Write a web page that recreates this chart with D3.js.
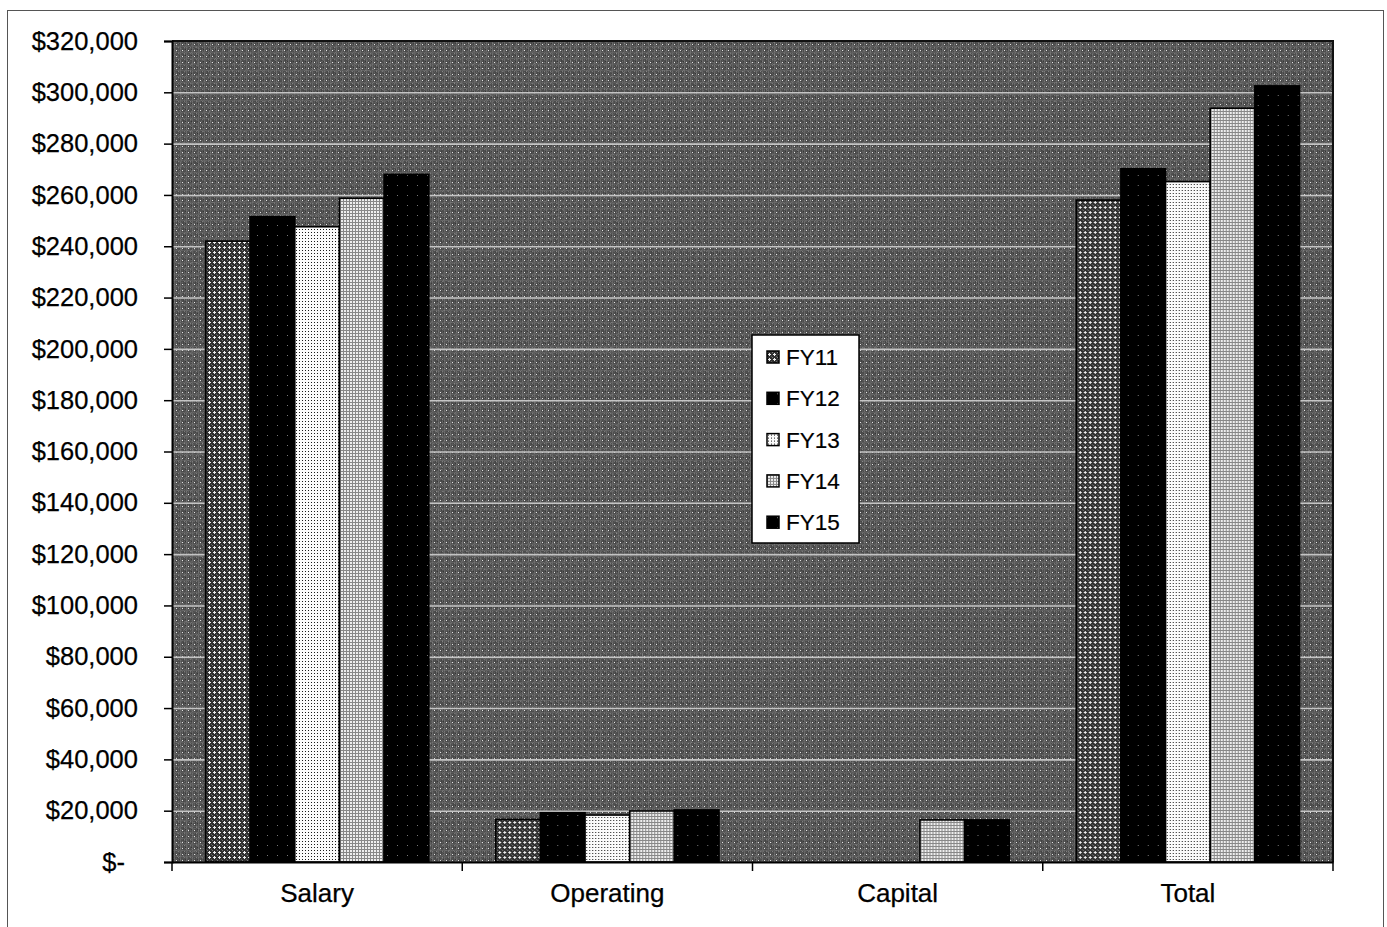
<!DOCTYPE html>
<html>
<head>
<meta charset="utf-8">
<script src="https://cdn.jsdelivr.net/npm/d3@7"></script>
<style>
  html, body { margin: 0; padding: 0; background: #fff; }
  svg { display: block; }
  text { font-family: "Liberation Sans", Arial, sans-serif; fill: #000; }
</style>
</head>
<body>
<svg id="chart" width="1387" height="927"></svg>
<script>
// Budget categories and fiscal-year series
const categories = ["Salary", "Operating", "Capital", "Total"];
const seriesNames = ["FY11", "FY12", "FY13", "FY14", "FY15"];
const fy11 = [242000, 16600, 0, 258000];
const fy12 = [251500, 19200, 0, 270200];
const fy13 = [247600, 18300, 0, 265200];
const fy14 = [258700, 19900, 16400, 293800];
const fy15 = [268000, 20300, 16400, 302500];
const seriesValues = [fy11, fy12, fy13, fy14, fy15];
const yTicks = [0, 20000, 40000, 60000, 80000, 100000, 120000, 140000, 160000,
                180000, 200000, 220000, 240000, 260000, 280000, 300000, 320000];

const svg = d3.select("#chart");
const plot = { left: 172, top: 41, right: 1333, bottom: 862 };

const defs = svg.append("defs");

// Halftone-like fills
function pattern(id, size, draw) {
  const p = defs.append("pattern")
    .attr("id", id).attr("patternUnits", "userSpaceOnUse")
    .attr("width", size).attr("height", size);
  draw(p);
}
const px = (p, x, y, w, h, c) => p.append("rect").attr("x", x).attr("y", y)
  .attr("width", w).attr("height", h).attr("fill", c).attr("shape-rendering", "crispEdges");

pattern("bgPat", 6, p => {
  px(p, 0, 0, 6, 6, "#4e4e4e");
  px(p, 0, 0, 1, 6, "#646464");
  px(p, 3, 0, 1, 6, "#454545");
  px(p, 0, 4, 6, 1, "#5c5c5c");
  px(p, 2, 2, 1, 1, "#e2e2e2");
  px(p, 5, 1, 1, 1, "#363636");
  px(p, 4, 5, 1, 1, "#787878");
});
pattern("p11", 5, p => {
  px(p, 0, 0, 5, 5, "#303030");
  px(p, 0, 0, 1, 1, "#7a7a7a");
  px(p, 4, 4, 1, 1, "#5a5a5a");
  px(p, 1, 2, 3, 1, "#eeeeee");
  px(p, 2, 1, 1, 3, "#eeeeee");
});
pattern("pDark", 10, p => {
  px(p, 0, 0, 10, 10, "#000");
  px(p, 5, 5, 1, 1, "#777");
});
pattern("p13", 3, p => {
  px(p, 0, 0, 3, 3, "#fbfbfb");
  px(p, 1, 1, 1, 1, "#1a1a1a");
});
pattern("p14", 3, p => {
  px(p, 0, 0, 3, 3, "#eeeeee");
  px(p, 0, 0, 3, 1, "#888888");
  px(p, 0, 0, 1, 3, "#888888");
});
const fills = ["url(#p11)", "url(#pDark)", "url(#p13)", "url(#p14)", "url(#pDark)"];

// Grain for the plot background
const grain = defs.append("filter").attr("id", "grain")
  .attr("x", 0).attr("y", 0).attr("width", 1).attr("height", 1);
grain.append("feTurbulence").attr("type", "fractalNoise")
  .attr("baseFrequency", 0.85).attr("numOctaves", 2).attr("seed", 4).attr("result", "n");
grain.append("feColorMatrix").attr("type", "matrix")
  .attr("values", "0 0 0 0 1  0 0 0 0 1  0 0 0 0 1  1.6 0 0 0 -0.75");

// Outer frame
svg.append("rect").attr("x", 7.5).attr("y", 10.5).attr("width", 1376).attr("height", 930)
  .attr("fill", "none").attr("stroke", "#555").attr("stroke-width", 1);

// Scales
const x0 = d3.scaleBand().domain(categories).range([plot.left, plot.right]).paddingInner(0).paddingOuter(0);
const x1 = d3.scaleBand().domain(seriesNames).range([0, x0.bandwidth()]).paddingInner(0).paddingOuter(0.75);
const y = d3.scaleLinear().domain([0, 320000]).range([plot.bottom, plot.top]);

// Plot background
svg.append("rect").attr("x", plot.left).attr("y", plot.top)
  .attr("width", plot.right - plot.left).attr("height", plot.bottom - plot.top)
  .attr("fill", "url(#bgPat)");
svg.append("rect").attr("x", plot.left).attr("y", plot.top)
  .attr("width", plot.right - plot.left).attr("height", plot.bottom - plot.top)
  .attr("filter", "url(#grain)").attr("opacity", 0.35);

// Gridlines
svg.append("g").selectAll("line").data(yTicks.filter(d => d > 0 && d < 320000)).join("line")
  .attr("x1", plot.left).attr("x2", plot.right)
  .attr("y1", d => y(d) + 0.5).attr("y2", d => y(d) + 0.5)
  .attr("stroke", "#c4c4c4").attr("stroke-width", 1.6);

// Bars
const groups = svg.append("g").selectAll("g").data(categories).join("g")
  .attr("transform", d => `translate(${x0(d)},0)`);
groups.selectAll("rect")
  .data((c, ci) => seriesNames.map((s, si) => ({ s, si, v: seriesValues[si][ci] })).filter(d => d.v > 0))
  .join("rect")
  .attr("x", d => x1(d.s))
  .attr("y", d => y(d.v))
  .attr("width", x1.bandwidth())
  .attr("height", d => y(0) - y(d.v))
  .attr("fill", d => fills[d.si])
  .attr("stroke", "#000").attr("stroke-width", 1.6);

// Plot frame (top and right)
svg.append("path")
  .attr("d", `M${plot.left},${plot.top}H${plot.right}V${plot.bottom}`)
  .attr("fill", "none").attr("stroke", "#111").attr("stroke-width", 2);

// Y axis
const yAxis = d3.axisLeft(y).tickValues(yTicks).tickSize(8).tickPadding(26)
  .tickFormat(v => v === 0 ? "$-" : "$" + d3.format(",")(v));
const yg = svg.append("g").attr("transform", `translate(${plot.left},0)`).call(yAxis);
yg.select(".domain").attr("stroke", "#000").attr("stroke-width", 2);
yg.selectAll(".tick line").attr("stroke", "#000").attr("stroke-width", 1.5);
yg.selectAll(".tick text")
  .style("font-family", "'Liberation Sans', Arial, sans-serif")
  .style("font-size", "25.5px").attr("fill", "#000")
  .attr("stroke", "#000").attr("stroke-width", 0.25)
  .attr("dx", d => d === 0 ? -13 : 0);

// X axis
const xAxis = d3.axisBottom(x0).tickSize(0).tickPadding(22);
const xg = svg.append("g").attr("transform", `translate(0,${plot.bottom})`).call(xAxis);
xg.select(".domain").attr("stroke", "#000").attr("stroke-width", 2);
xg.selectAll(".tick text")
  .style("font-family", "'Liberation Sans', Arial, sans-serif")
  .style("font-size", "26px").attr("fill", "#000")
  .attr("stroke", "#000").attr("stroke-width", 0.25);
// Category separators on the axis
svg.append("g").selectAll("line")
  .data(categories.map(c => x0(c)).concat([plot.right]))
  .join("line")
  .attr("x1", d => d).attr("x2", d => d)
  .attr("y1", plot.bottom).attr("y2", plot.bottom + 9)
  .attr("stroke", "#000").attr("stroke-width", 1.5);

// Legend
const legend = svg.append("g").attr("transform", "translate(752,335)");
legend.append("rect").attr("x", 0).attr("y", 0).attr("width", 107).attr("height", 208)
  .attr("fill", "#fff").attr("stroke", "#000").attr("stroke-width", 1.5);
const items = legend.selectAll("g").data(seriesNames).join("g")
  .attr("transform", (d, i) => `translate(0,${22 + i * 41.3})`);
items.append("rect").attr("x", 15).attr("y", -6).attr("width", 12).attr("height", 12)
  .attr("fill", (d, i) => fills[i]).attr("stroke", "#000").attr("stroke-width", 1.5);
items.append("text").attr("x", 34).attr("y", 0).attr("dy", "0.36em")
  .attr("stroke", "#000").attr("stroke-width", 0.2)
  .style("font-size", "22.5px").text(d => d);
</script>
</body>
</html>
